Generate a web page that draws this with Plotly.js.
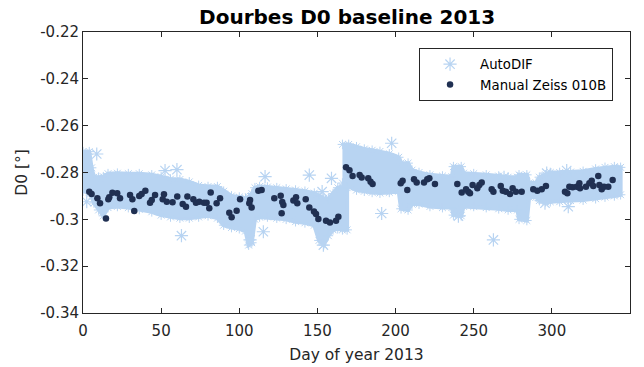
<!DOCTYPE html>
<html>
<head>
<meta charset="utf-8">
<script src="https://cdn.plot.ly/plotly-3.0.1.min.js"></script>
<style>html,body{margin:0;padding:0;background:#fff;}#chart{width:644px;height:367px;}</style>
</head>
<body>
<div id="chart"></div>
<script>
// AutoDIF dense band, segment before the day-168 jump (envelope)
var autoDay1 = [0, 4, 5.5, 7, 10, 13, 16, 22, 29, 36, 44, 50, 56, 62, 68, 74, 80, 86, 90, 95, 100, 104, 106, 108, 110, 113, 118, 124, 130, 136, 142, 148, 151, 154, 157, 160, 163, 166, 169];
var autoTop1 = [-0.2711, -0.2711, -0.2780, -0.2820, -0.2820, -0.2818, -0.2805, -0.2803, -0.2805, -0.2805, -0.2810, -0.2818, -0.2828, -0.2830, -0.2840, -0.2855, -0.2860, -0.2860, -0.2880, -0.2900, -0.2905, -0.2910, -0.2905, -0.2890, -0.2865, -0.2860, -0.2862, -0.2865, -0.2870, -0.2875, -0.2880, -0.2888, -0.2900, -0.2910, -0.2912, -0.2890, -0.2865, -0.2862, -0.2865];
var autoBot1 = [-0.2880, -0.2885, -0.2900, -0.2930, -0.2960, -0.2985, -0.2950, -0.2945, -0.2950, -0.2958, -0.2968, -0.2982, -0.2990, -0.2995, -0.2995, -0.2990, -0.2985, -0.2995, -0.3025, -0.3035, -0.3040, -0.3050, -0.3110, -0.3100, -0.3000, -0.2990, -0.2990, -0.2995, -0.3000, -0.3010, -0.3015, -0.3025, -0.3090, -0.3110, -0.3070, -0.3045, -0.3040, -0.3045, -0.3045];
// AutoDIF dense band, segment after the jump
var autoDay2 = [166, 170, 175, 180, 185, 190, 196, 202, 203.5, 208, 210.5, 215, 222, 230, 236, 237, 242, 243.5, 250, 258, 266, 272, 278, 279, 284, 285.5, 290, 292, 296, 299, 305, 312, 320, 328, 334, 340, 344];
var autoTop2 = [-0.2680, -0.2680, -0.2690, -0.2700, -0.2705, -0.2710, -0.2720, -0.2735, -0.2760, -0.2760, -0.2790, -0.2800, -0.2810, -0.2815, -0.2818, -0.2775, -0.2775, -0.2803, -0.2805, -0.2810, -0.2815, -0.2820, -0.2820, -0.2810, -0.2810, -0.2845, -0.2845, -0.2820, -0.2810, -0.2800, -0.2800, -0.2798, -0.2795, -0.2785, -0.2778, -0.2775, -0.2778];
var autoBot2 = [-0.2845, -0.2860, -0.2875, -0.2880, -0.2885, -0.2888, -0.2885, -0.2880, -0.2955, -0.2960, -0.2935, -0.2935, -0.2945, -0.2950, -0.2950, -0.2982, -0.2985, -0.2945, -0.2945, -0.2950, -0.2955, -0.2960, -0.2960, -0.3000, -0.3005, -0.2905, -0.2905, -0.2920, -0.2925, -0.2925, -0.2925, -0.2920, -0.2918, -0.2912, -0.2905, -0.2900, -0.2895];
// AutoDIF isolated values
var autoOutDay = [2.4, 8.8, 52.5, 60.1, 63.0, 106.9, 115.4, 116.5, 144.8, 153.0, 153.8, 159.0, 191.1, 197.5, 240.2, 262.6, 269.4, 295.6, 296.7, 309.5, 310.5];
var autoOutVal = [-0.2925, -0.2721, -0.2792, -0.2788, -0.3070, -0.3088, -0.3053, -0.2818, -0.2811, -0.2882, -0.3110, -0.2825, -0.2975, -0.2675, -0.2986, -0.3088, -0.2821, -0.2931, -0.2803, -0.2792, -0.2946];
// Manual Zeiss 010B
var manDay = [4.0, 5.5, 9.2, 10.9, 14.7, 16.2, 16.8, 18.8, 21.9, 23.7, 30.1, 31.6, 32.8, 36.0, 37.5, 39.9, 42.9, 44.0, 46.1, 51.0, 51.8, 53.6, 57.3, 60.3, 63.8, 65.9, 66.8, 70.6, 72.3, 74.4, 77.4, 79.1, 80.8, 81.7, 85.5, 87.7, 93.6, 95.1, 98.3, 100.5, 106.4, 106.9, 107.9, 112.2, 114.3, 122.4, 126.5, 127.1, 127.5, 128.2, 134.6, 136.3, 137.1, 142.5, 144.8, 147.8, 149.1, 150.6, 155.5, 158.0, 161.9, 163.4, 168.3, 170.5, 172.5, 177.0, 178.3, 182.5, 184.0, 185.3, 203.3, 204.5, 207.5, 211.8, 213.5, 218.2, 220.3, 221.6, 225.2, 239.5, 242.3, 245.1, 246.5, 247.6, 249.3, 252.3, 253.6, 255.1, 261.5, 262.6, 267.3, 268.6, 270.6, 273.2, 274.9, 277.0, 280.7, 288.1, 290.7, 293.5, 296.2, 308.4, 309.9, 311.2, 313.3, 315.9, 317.6, 318.0, 321.8, 324.0, 325.5, 326.5, 329.7, 330.4, 331.9, 333.4, 336.1, 338.9];
var manVal = [-0.2882, -0.2892, -0.2910, -0.2931, -0.2996, -0.2914, -0.2906, -0.2886, -0.2889, -0.2910, -0.2896, -0.2914, -0.2964, -0.2900, -0.2892, -0.2878, -0.2929, -0.2917, -0.2896, -0.2914, -0.2893, -0.2925, -0.2927, -0.2903, -0.2934, -0.2946, -0.2903, -0.2914, -0.2929, -0.2925, -0.2929, -0.2929, -0.2953, -0.2885, -0.2931, -0.2910, -0.2972, -0.2991, -0.2963, -0.2914, -0.2931, -0.2917, -0.2949, -0.2878, -0.2875, -0.2910, -0.2899, -0.2974, -0.2926, -0.2939, -0.2920, -0.2906, -0.2931, -0.2914, -0.2949, -0.2967, -0.2977, -0.2999, -0.3006, -0.3014, -0.3006, -0.2989, -0.2778, -0.2790, -0.2815, -0.2811, -0.2821, -0.2825, -0.2839, -0.2849, -0.2846, -0.2835, -0.2875, -0.2829, -0.2843, -0.2843, -0.2829, -0.2825, -0.2849, -0.2849, -0.2885, -0.2872, -0.2882, -0.2889, -0.2853, -0.2867, -0.2853, -0.2843, -0.2872, -0.2882, -0.2858, -0.2878, -0.2882, -0.2892, -0.2867, -0.2882, -0.2882, -0.2872, -0.2878, -0.2872, -0.2858, -0.2882, -0.2889, -0.2861, -0.2863, -0.2861, -0.2846, -0.2867, -0.2861, -0.2846, -0.2835, -0.2858, -0.2815, -0.2853, -0.2872, -0.2861, -0.2861, -0.2832];
// tick labels
var yTickVals = [-0.34, -0.32, -0.30, -0.28, -0.26, -0.24, -0.22];
var yTickText = ['-0.34', '-0.32', '-0.3', '-0.28', '-0.26', '-0.24', '-0.22'];
var xTickVals = [0, 50, 100, 150, 200, 250, 300, 350];
var xTickText = ['0', '50', '100', '150', '200', '250', '300', '350'];

var lightBlue = 'rgb(184,212,242)';
var navy = 'rgb(32,48,82)';
var axisCol = '#262626';

function bandX(d) { return d.concat(d.slice().reverse()); }
function bandY(t, b) { return t.concat(b.slice().reverse()); }

var traces = [
  { x: bandX(autoDay1), y: bandY(autoTop1, autoBot1), type: 'scatter', mode: 'lines', fill: 'toself',
    fillcolor: lightBlue, line: { color: lightBlue, width: 4 }, showlegend: false, hoverinfo: 'skip' },
  { x: bandX(autoDay2), y: bandY(autoTop2, autoBot2), type: 'scatter', mode: 'lines', fill: 'toself',
    fillcolor: lightBlue, line: { color: lightBlue, width: 4 }, showlegend: false, hoverinfo: 'skip' },
  { x: autoDay1.concat(autoDay1, autoDay2, autoDay2), y: autoTop1.concat(autoBot1, autoTop2, autoBot2),
    type: 'scatter', mode: 'markers', showlegend: false, hoverinfo: 'skip',
    marker: { symbol: 'asterisk-open', size: 8, color: lightBlue, line: { color: lightBlue, width: 1 } } },
  { x: autoOutDay, y: autoOutVal, type: 'scatter', mode: 'markers', name: 'AutoDIF',
    marker: { symbol: 'asterisk-open', size: 11, color: lightBlue, line: { color: lightBlue, width: 1.2 } } },
  { x: manDay, y: manVal, type: 'scatter', mode: 'markers', name: 'Manual Zeiss 010B',
    marker: { symbol: 'circle', size: 6.5, color: navy, line: { width: 0 } } }
];

var layout = {
  width: 644, height: 367,
  margin: { l: 83, r: 14, t: 32, b: 54 },
  paper_bgcolor: '#fff', plot_bgcolor: '#fff',
  font: { family: 'DejaVu Sans, sans-serif', size: 15, color: axisCol },
  title: { text: '<b>Dourbes D0 baseline 2013</b>', x: 0.539, xanchor: 'center', y: 0.955, yanchor: 'middle',
           font: { family: 'DejaVu Sans, sans-serif', size: 20, color: '#000' } },
  xaxis: {
    range: [0, 350], tickvals: xTickVals, ticktext: xTickText,
    ticks: 'inside', ticklen: 5, tickwidth: 1, tickcolor: axisCol,
    showline: true, linecolor: axisCol, linewidth: 1, mirror: 'ticks',
    showgrid: false, zeroline: false, ticklabelstandoff: 4,
    tickfont: { size: 15, color: axisCol },
    title: { text: 'Day of year 2013', font: { size: 15.5, color: axisCol }, standoff: 10 }
  },
  yaxis: {
    range: [-0.34, -0.22], tickvals: yTickVals, ticktext: yTickText,
    ticks: 'inside', ticklen: 5, tickwidth: 1, tickcolor: axisCol,
    showline: true, linecolor: axisCol, linewidth: 1, mirror: 'ticks',
    showgrid: false, zeroline: false,
    tickfont: { size: 15, color: axisCol },
    title: { text: 'D0 [°]', font: { size: 15.5, color: axisCol }, standoff: 8 }
  },
  legend: {
    x: 0.969, xanchor: 'right', y: 0.943, yanchor: 'top',
    bgcolor: '#fff', bordercolor: axisCol, borderwidth: 1,
    font: { size: 13.3, color: '#000' }, itemwidth: 50, tracegroupgap: 0
  },
  showlegend: true
};

Plotly.newPlot('chart', traces, layout, { staticPlot: true, displayModeBar: false });
</script>
</body>
</html>
